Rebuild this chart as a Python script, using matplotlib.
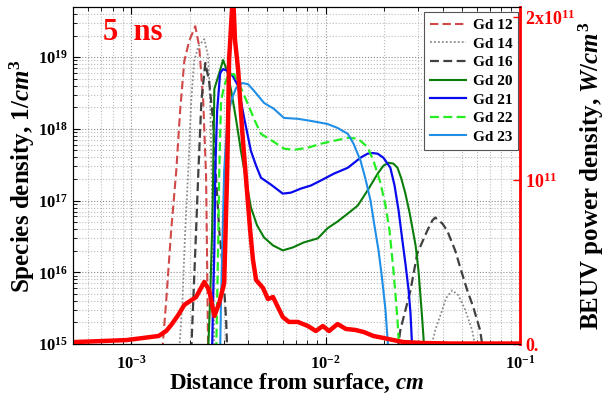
import numpy as np
import matplotlib
matplotlib.use('Agg')
import matplotlib.pyplot as plt

plt.rcParams['font.family'] = 'Liberation Serif'
plt.rcParams['font.weight'] = 'bold'
plt.rcParams['axes.labelweight'] = 'bold'
plt.rcParams['mathtext.fontset'] = 'custom'
plt.rcParams['mathtext.rm'] = 'Liberation Serif:bold'
plt.rcParams['mathtext.it'] = 'Liberation Serif:italic:bold'
plt.rcParams['mathtext.bf'] = 'Liberation Serif:bold'
plt.rcParams['mathtext.default'] = 'rm'

nan = np.nan

# species densities, 1/cm^3
gd12_x = [1.44e-3, 1.51e-3, 1.60e-3, 1.70e-3, 1.78e-3, 1.87e-3, 1.98e-3, 2.13e-3, 2.23e-3, 2.34e-3, 2.42e-3, 2.45e-3, 2.48e-3]
gd12_y = [8e14, 4.1e15, 3.8e16, 2.6e17, 1.8e18, 8.8e18, 1.67e19, 2.7e19, 1.42e19, 2.45e18, 2.2e17, 1.47e16, 8e14]

gd14_x = [1.76e-3, 1.83e-3, 1.89e-3, 1.96e-3, 2.03e-3, 2.10e-3, 2.21e-3, 2.37e-3, 2.48e-3, 2.54e-3, 2.60e-3, 2.67e-3,
          nan, 3.45e-2, 3.66e-2, 3.89e-2, 4.17e-2, 4.48e-2, 4.81e-2, 5.22e-2, 5.67e-2, 5.94e-2]
gd14_y = [8e14, 4.1e15, 3.8e16, 2.6e17, 2.45e18, 8.8e18, 1.42e19, 1.78e19, 1.03e19, 2.45e18, 1e17, 8e14,
          nan, 8e14, 1.56e15, 2.5e15, 4.4e15, 5.6e15, 4.8e15, 3.0e15, 1.56e15, 8e14]

gd16_x = [2.03e-3, 2.08e-3, 2.13e-3, 2.21e-3, 2.29e-3, 2.40e-3, 2.51e-3, 2.63e-3, 2.73e-3, 2.83e-3, 2.96e-3, 3.07e-3, 3.11e-3,
          nan, 2.34e-2, 2.42e-2, 2.73e-2, 2.96e-2, 3.33e-2, 3.54e-2, 3.66e-2, 3.80e-2, 3.98e-2, 4.22e-2, 4.64e-2,
          4.92e-2, 5.35e-2, 5.74e-2, 6.23e-2, 6.46e-2]
gd16_y = [8e14, 4.1e15, 2.0e16, 2.6e17, 2.45e18, 8.3e18, 4.6e18, 1.29e18, 1.9e17, 3.8e16, 1.07e16, 2.15e15, 8e14,
          nan, 8e14, 1.56e15, 5.6e15, 1.84e16, 3.8e16, 5.3e16, 5.8e16, 5.3e16, 4.8e16, 3.8e16, 2.0e16,
          1.17e16, 5.6e15, 3.3e15, 1.56e15, 8e14]

gd20_x = [2.48e-3, 2.54e-3, 2.60e-3, 2.63e-3, 2.67e-3, 2.83e-3, 2.96e-3, 3.11e-3, 3.26e-3, 3.45e-3, 3.66e-3, 3.89e-3,
          4.12e-3, 4.43e-3, 4.81e-3, 5.35e-3, 6.01e-3, 6.77e-3, 7.71e-3, 9.10e-3, 1.02e-2, 1.15e-2, 1.30e-2, 1.46e-2,
          1.64e-2, 1.85e-2, 1.98e-2, 2.10e-2, 2.23e-2, 2.34e-2, 2.45e-2, 2.57e-2, 2.70e-2, 2.79e-2, 2.90e-2, 3.00e-2,
          3.07e-2, 3.14e-2, 3.22e-2]
gd20_y = [8e14, 4.1e15, 3.8e16, 1.9e17, 3.6e18, 6.0e18, 9.1e18, 6.4e18, 3.4e18, 1.38e18, 4.9e17, 1.9e17,
          8.0e16, 4.5e16, 3.06e16, 2.37e16, 2.02e16, 2.22e16, 2.61e16, 2.97e16, 4.1e16, 5.1e16, 6.6e16, 8.5e16,
          1.38e17, 2.37e17, 3.06e17, 3.37e17, 3.27e17, 2.87e17, 2.02e17, 1.25e17, 6.8e16, 4.2e16, 2.37e16, 1.07e16,
          4.8e15, 2.15e15, 8e14]

gd21_x = [2.60e-3, 2.63e-3, 2.67e-3, 2.70e-3, 2.76e-3, 2.86e-3, 2.96e-3, 3.14e-3, 3.33e-3, 3.54e-3, 3.80e-3, 4.12e-3,
          4.38e-3, 4.64e-3, 5.22e-3, 6.01e-3, 6.62e-3, 7.45e-3, 8.38e-3, 9.42e-3, 1.10e-2, 1.30e-2, 1.51e-2, 1.64e-2,
          1.74e-2, 1.85e-2, 1.98e-2, 2.15e-2, 2.26e-2, 2.37e-2, 2.48e-2, 2.57e-2, 2.67e-2, 2.73e-2, 2.79e-2]
gd21_y = [8e14, 4.1e15, 2.0e16, 2.6e17, 1.8e18, 6.0e18, 6.8e18, 6.4e18, 5.4e18, 3.95e18, 1.42e18, 4.9e17,
          3.06e17, 2.08e17, 1.67e17, 1.25e17, 1.29e17, 1.47e17, 1.62e17, 1.9e17, 2.37e17, 2.87e17, 3.96e17, 4.5e17,
          4.6e17, 4.5e17, 3.96e17, 2.87e17, 1.62e17, 7.3e16, 2.78e16, 1.33e16, 5.6e15, 2.7e15, 8e14]

gd22_x = [2.73e-3, 2.76e-3, 2.79e-3, 2.83e-3, 2.89e-3, 3.00e-3, 3.14e-3, 3.37e-3, 3.66e-3, 3.98e-3, 4.27e-3, 4.64e-3,
          5.22e-3, 6.09e-3, 6.85e-3, 8.09e-3, 9.42e-3, 1.10e-2, 1.30e-2, 1.46e-2, 1.64e-2, 1.76e-2, 1.91e-2, 2.03e-2,
          2.13e-2, 2.23e-2, 2.29e-2, 2.34e-2, 2.39e-2]
gd22_y = [8e14, 4.1e15, 2.0e16, 2.6e17, 2.45e18, 3.95e18, 5.6e18, 5.8e18, 3.7e18, 2.2e18, 1.38e18, 8.5e17,
          7.0e17, 5.3e17, 5.1e17, 5.45e17, 6.2e17, 6.8e17, 7.5e17, 7.3e17, 5.6e17, 3.6e17, 1.78e17, 8.5e16,
          3.8e16, 1.07e16, 4.5e15, 2.15e15, 8e14]

gd23_x = [2.86e-3, 2.89e-3, 2.93e-3, 3.00e-3, 3.11e-3, 3.26e-3, 3.45e-3, 3.71e-3, 3.98e-3, 4.27e-3, 4.81e-3, 5.41e-3,
          6.09e-3, 7.18e-3, 8.38e-3, 1.02e-2, 1.15e-2, 1.30e-2, 1.39e-2, 1.51e-2, 1.60e-2, 1.70e-2, 1.78e-2, 1.87e-2,
          1.94e-2, 2.03e-2, 2.10e-2]
gd23_y = [8e14, 4.1e15, 2.0e16, 2.6e17, 1.29e18, 2.45e18, 3.7e18, 4.35e18, 4.2e18, 3.4e18, 2.3e18, 1.9e18,
          1.42e18, 1.38e18, 1.29e18, 1.17e18, 1.03e18, 8.5e17, 6.2e17, 3.6e17, 2.02e17, 1.0e17, 4.5e16, 2.0e16,
          9.1e15, 3.0e15, 8e14]

# BEUV power density, W/cm^3
beuv_x = [5.10e-4, 7.02e-4, 9.43e-4, 1.38e-3, 1.51e-3, 1.60e-3, 1.74e-3, 1.87e-3, 2.15e-3, 2.37e-3, 2.51e-3, 2.67e-3,
          2.83e-3, 3.00e-3, 3.11e-3, 3.18e-3, 3.33e-3, 3.41e-3, 3.54e-3, 3.71e-3, 3.89e-3, 4.08e-3, 4.22e-3, 4.38e-3,
          4.75e-3, 5.04e-3, 5.35e-3, 5.67e-3, 6.01e-3, 6.46e-3, 7.18e-3, 8.09e-3, 8.89e-3, 9.66e-3, 1.04e-2, 1.15e-2,
          1.27e-2, 1.42e-2, 1.57e-2, 1.76e-2, 1.98e-2, 2.23e-2, 2.51e-2, 3.18e-2, 4.37e-2, 1e-1]
beuv_y = [1.2e9, 1.8e9, 2.4e9, 4.9e9, 8.0e9, 1.16e10, 1.77e10, 2.39e10, 2.87e10, 3.79e10, 3.30e10, 1.71e10,
          2.51e10, 3.73e10, 1.064e11, 1.737e11, 2.15e11, 1.859e11, 1.676e11, 1.309e11, 1.003e11, 6.97e10, 5.14e10, 3.91e10,
          3.43e10, 2.75e10, 2.87e10, 2.26e10, 1.65e10, 1.35e10, 1.35e10, 1.10e10, 7.95e9, 1.10e10, 7.95e9, 1.22e10,
          9.2e9, 8.6e9, 7.3e9, 4.9e9, 3.7e9, 2.4e9, 1.2e9, 0.6e9, 0.3e9, 0.3e9]

beuv_ticks = [0, 1e11, 2e11]
beuv_tick_labels = ['0.', r'$10^{11}$', r'2x$10^{11}$']

fig = plt.figure(figsize=(6.1, 3.95), dpi=100)
ax = fig.add_axes([0.1197, 0.1291, 0.7328, 0.8532])

ax.plot(gd12_x, gd12_y, color='#d04848', linestyle=(0, (4, 2)), linewidth=1.5, label='Gd 12')
ax.plot(gd14_x, gd14_y, color='#8c8c8c', linestyle=(0, (1, 1.2)), linewidth=1.3, label='Gd 14')
ax.plot(gd16_x, gd16_y, color='#404040', linestyle=(0, (4, 2)), linewidth=1.6, label='Gd 16')
ax.plot(gd20_x, gd20_y, color='#0a7d0a', linewidth=1.5, label='Gd 20')
ax.plot(gd21_x, gd21_y, color='#0a0aee', linewidth=1.6, label='Gd 21')
ax.plot(gd22_x, gd22_y, color='#22ee22', linestyle=(0, (4, 2)), linewidth=1.6, label='Gd 22')
ax.plot(gd23_x, gd23_y, color='#1f8ee6', linewidth=1.5, label='Gd 23')

ax.set_xscale('log')
ax.set_yscale('log')
ax.set_xlim(5e-4, 1e-1)
ax.set_ylim(1e15, 5e19)
ax.set_xticks([1e-3, 1e-2, 1e-1])
ax.set_xticklabels([r'$10^{-3}$', r'$10^{-2}$', r'$10^{-1}$'])
ax.set_yticks([1e15, 1e16, 1e17, 1e18, 1e19])
ax.set_yticklabels([r'$10^{15}$', r'$10^{16}$', r'$10^{17}$', r'$10^{18}$', r'$10^{19}$'])
ax.tick_params(which='both', direction='in', top=True, right=True, labelsize=12)
ax.tick_params(which='major', length=5)
ax.tick_params(which='minor', length=3)
ax.tick_params(axis='x', which='major', pad=8)
ax.grid(which='major', linestyle=':', color='#8a8a8a', linewidth=0.8)
ax.grid(which='minor', linestyle=':', color='#bcbcbc', linewidth=0.8)
ax.set_xlabel(r'Distance from surface, $\mathit{cm}$', fontsize=16.5, labelpad=-1)
ax.set_ylabel(r'Species density, $\mathit{1/cm}^{3}$', fontsize=18, labelpad=1)
ax.text(0.067, 0.925, '5  ns', transform=ax.transAxes, color='red', fontsize=22,
        fontweight='bold', ha='left', va='center')

leg = ax.legend(loc='upper right', bbox_to_anchor=(0.996, 0.984), borderaxespad=0, fontsize=11,
                handlelength=2.4, handletextpad=0.4, labelspacing=0.32, borderpad=0.4, fancybox=False,
                framealpha=1)
leg.get_frame().set_edgecolor('#555555')
leg.get_frame().set_linewidth(0.8)

ax2 = ax.twinx()
ax2.plot(beuv_x, beuv_y, color='red', linewidth=3.2)
ax2.set_ylim(0, 2.06e11)
ax2.set_yticks(beuv_ticks)
ax2.set_yticklabels(beuv_tick_labels)
ax2.tick_params(axis='y', direction='in', colors='red', labelsize=13, length=5, width=1)
ax2.spines['right'].set_color('red')
ax2.spines['right'].set_linewidth(2)
ax2.set_ylabel(r'BEUV power density, $\mathit{W/cm}^{3}$', fontsize=18, labelpad=1)

fig.savefig('out.png', dpi=100)
